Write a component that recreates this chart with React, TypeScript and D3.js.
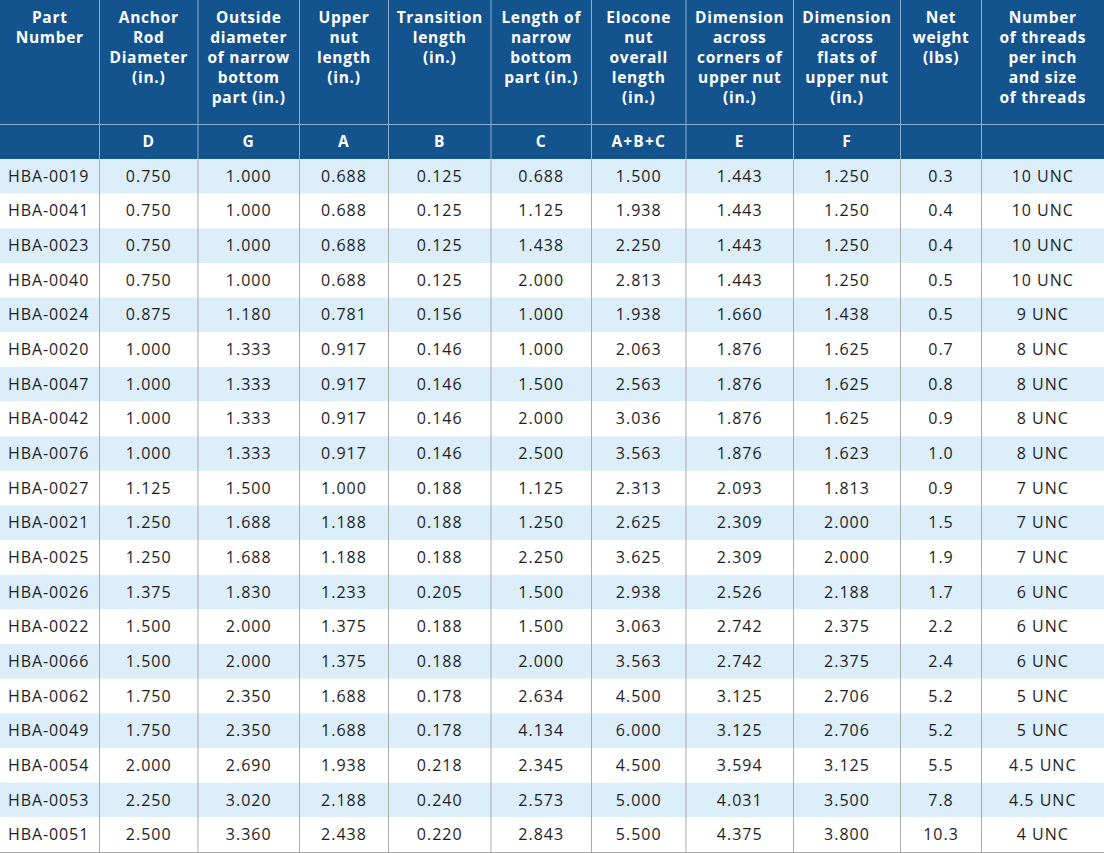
import React from "react";
import * as d3 from "d3";

const partNumbers = ["HBA-0019","HBA-0041","HBA-0023","HBA-0040","HBA-0024","HBA-0020","HBA-0047","HBA-0042","HBA-0076","HBA-0027","HBA-0021","HBA-0025","HBA-0026","HBA-0022","HBA-0066","HBA-0062","HBA-0049","HBA-0054","HBA-0053","HBA-0051"];
const anchorRodDiameter = ["0.750","0.750","0.750","0.750","0.875","1.000","1.000","1.000","1.000","1.125","1.250","1.250","1.375","1.500","1.500","1.750","1.750","2.000","2.250","2.500"];
const outsideDiameter = ["1.000","1.000","1.000","1.000","1.180","1.333","1.333","1.333","1.333","1.500","1.688","1.688","1.830","2.000","2.000","2.350","2.350","2.690","3.020","3.360"];
const upperNutLength = ["0.688","0.688","0.688","0.688","0.781","0.917","0.917","0.917","0.917","1.000","1.188","1.188","1.233","1.375","1.375","1.688","1.688","1.938","2.188","2.438"];
const transitionLength = ["0.125","0.125","0.125","0.125","0.156","0.146","0.146","0.146","0.146","0.188","0.188","0.188","0.205","0.188","0.188","0.178","0.178","0.218","0.240","0.220"];
const narrowLength = ["0.688","1.125","1.438","2.000","1.000","1.000","1.500","2.000","2.500","1.125","1.250","2.250","1.500","1.500","2.000","2.634","4.134","2.345","2.573","2.843"];
const overallLength = ["1.500","1.938","2.250","2.813","1.938","2.063","2.563","3.036","3.563","2.313","2.625","3.625","2.938","3.063","3.563","4.500","6.000","4.500","5.000","5.500"];
const acrossCorners = ["1.443","1.443","1.443","1.443","1.660","1.876","1.876","1.876","1.876","2.093","2.309","2.309","2.526","2.742","2.742","3.125","3.125","3.594","4.031","4.375"];
const acrossFlats = ["1.250","1.250","1.250","1.250","1.438","1.625","1.625","1.625","1.623","1.813","2.000","2.000","2.188","2.375","2.375","2.706","2.706","3.125","3.500","3.800"];
const netWeight = ["0.3","0.4","0.4","0.5","0.5","0.7","0.8","0.9","1.0","0.9","1.5","1.9","1.7","2.2","2.4","5.2","5.2","5.5","7.8","10.3"];
const threads = ["10 UNC","10 UNC","10 UNC","10 UNC","9 UNC","8 UNC","8 UNC","8 UNC","8 UNC","7 UNC","7 UNC","7 UNC","6 UNC","6 UNC","6 UNC","5 UNC","5 UNC","4.5 UNC","4.5 UNC","4 UNC"];

const headerLabels: string[][] = [
  ["Part", "Number"],
  ["Anchor", "Rod", "Diameter", "(in.)"],
  ["Outside", "diameter", "of narrow", "bottom", "part (in.)"],
  ["Upper", "nut", "length", "(in.)"],
  ["Transition", "length", "(in.)"],
  ["Length of", "narrow", "bottom", "part (in.)"],
  ["Elocone", "nut", "overall", "length", "(in.)"],
  ["Dimension", "across", "corners of", "upper nut", "(in.)"],
  ["Dimension", "across", "flats of", "upper nut", "(in.)"],
  ["Net", "weight", "(lbs)"],
  ["Number", "of threads", "per inch", "and size", "of threads"],
];
const symbols = ["", "D", "G", "A", "B", "C", "A+B+C", "E", "F", "", ""];

const columns = [partNumbers, anchorRodDiameter, outsideDiameter, upperNutLength, transitionLength, narrowLength, overallLength, acrossCorners, acrossFlats, netWeight, threads];

// layout
const W = 1104;
const H = 853;
const colEdges = [0, 99.5, 198, 299.5, 388.5, 491, 591.5, 686, 793.5, 900.5, 981.5, 1104];
const symTop = 124.5;
const bodyTop = 159;
const bodyBottom = 852;

const BLUE = "#13548f";
const LIGHT = "#dbeefa";
const HEAD_LINE = "#8eb0d2";
const GRID = "#ababab";
const FONT = "'Open Sans', sans-serif";

export default function App() {
  const y = d3.scaleBand<number>().domain(d3.range(partNumbers.length)).range([bodyTop, bodyBottom]).padding(0);
  const cx = (i: number) => (colEdges[i] + colEdges[i + 1]) / 2;

  return (
    <svg width={W} height={H} style={{ position: "absolute", left: 0, top: 0, display: "block" }} fontFamily={FONT}>
      <rect x={0} y={0} width={W} height={H} fill="#fff" />
      <rect x={0} y={0} width={W} height={bodyTop} fill={BLUE} />
      {partNumbers.map((p, r) => (
        <rect key={p + r} x={0} y={y(r)!} width={W} height={y.bandwidth()} fill={r % 2 === 0 ? LIGHT : "#fff"} />
      ))}
      <line x1={0} x2={W} y1={symTop} y2={symTop} stroke={HEAD_LINE} strokeWidth={1} />
      {colEdges.slice(1, -1).map((e, i) => (
        <line key={"hv" + i} x1={e} x2={e} y1={0} y2={bodyTop} stroke={HEAD_LINE} strokeWidth={1} />
      ))}
      {colEdges.slice(1, -1).map((e, i) => (
        <line key={"bv" + i} x1={e} x2={e} y1={bodyTop} y2={bodyBottom} stroke={GRID} strokeWidth={1} />
      ))}
      <line x1={0} x2={W} y1={bodyBottom + 0.5} y2={bodyBottom + 0.5} stroke={GRID} strokeWidth={1} />
      {headerLabels.map((lines, c) => (
        <text key={"h" + c} x={cx(c)} y={23.4} textAnchor="middle" fill="#fff" fontWeight={700} fontSize={15.5} letterSpacing={0.7}>
          {lines.map((l, k) => (
            <tspan key={k} x={cx(c)} y={23.4 + k * 20}>{l}</tspan>
          ))}
        </text>
      ))}
      {symbols.map((s, c) => (
        <text key={"s" + c} x={cx(c)} y={147} textAnchor="middle" fill="#fff" fontWeight={700} fontSize={15.5} letterSpacing={1.2}>{s}</text>
      ))}
      {columns.map((col, c) =>
        col.map((v, r) => (
          <text
            key={"t" + c + "-" + r}
            x={c === 0 ? colEdges[0] + 8 : cx(c)}
            y={y(r)! + y.bandwidth() / 2 + 5.5}
            textAnchor={c === 0 ? "start" : "middle"}
            fill="#1e1e1e"
            fontSize={16}
            letterSpacing={c === 0 ? 0.9 : 1.0}
          >
            {v}
          </text>
        ))
      )}
    </svg>
  );
}
